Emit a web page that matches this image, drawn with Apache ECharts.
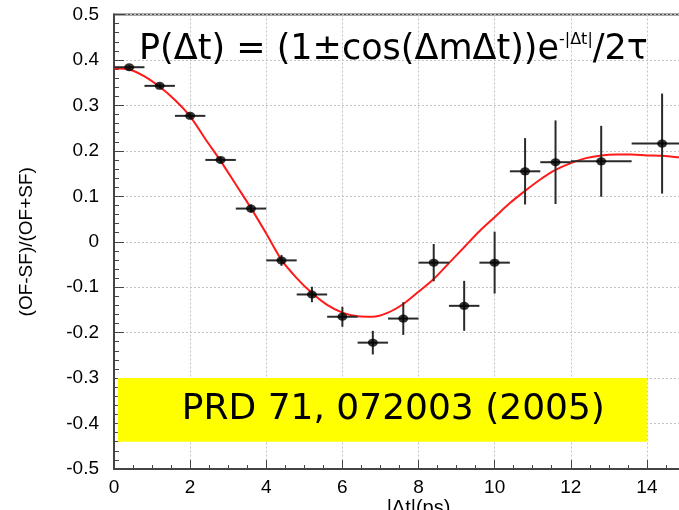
<!DOCTYPE html>
<html><head><meta charset="utf-8">
<script src="https://cdn.jsdelivr.net/npm/echarts@6/dist/echarts.min.js"></script>
<style>html,body{margin:0;padding:0;background:#fff}#c{width:679px;height:510px}</style>
</head><body><div id="c"></div>
<script>
// Measured asymmetry points
const binCenters   = [0.4, 1.2, 2.0, 2.8, 3.6, 4.4, 5.2, 6.0, 6.8, 7.6, 8.4, 9.2, 10.0, 10.8, 11.6, 12.8, 14.4];
const binHalfWidth = [0.4, 0.4, 0.4, 0.4, 0.4, 0.4, 0.4, 0.4, 0.4, 0.4, 0.4, 0.4, 0.4, 0.4, 0.4, 0.8, 0.8];
const asymmetry    = [0.384, 0.343, 0.277, 0.180, 0.073, -0.041, -0.116, -0.165, -0.222, -0.169, -0.046, -0.141, -0.046, 0.155, 0.175, 0.177, 0.216];
const asymError    = [0.004, 0.005, 0.006, 0.007, 0.009, 0.012, 0.017, 0.022, 0.026, 0.036, 0.041, 0.055, 0.068, 0.073, 0.092, 0.078, 0.110];
// Fit curve
const fitX = [0, 0.4, 0.8, 1.2, 1.6, 2.0, 2.4, 2.8, 3.2, 3.6, 4.0, 4.4, 4.8, 5.2, 5.6, 6.0, 6.4, 6.8, 7.2, 7.6, 8.0, 8.4, 8.8, 9.2, 9.6, 10.0, 10.4, 10.8, 11.2, 11.6, 12.0, 12.4, 12.8, 13.2, 13.6, 14.0, 14.4, 14.8, 15.2];
const fitY = [0.382, 0.379, 0.364, 0.341, 0.312, 0.276, 0.226, 0.178, 0.126, 0.074, 0.018, -0.040, -0.080, -0.113, -0.139, -0.156, -0.164, -0.165, -0.156, -0.137, -0.110, -0.082, -0.047, -0.012, 0.023, 0.054, 0.085, 0.112, 0.137, 0.158, 0.173, 0.184, 0.190, 0.192, 0.192, 0.190, 0.189, 0.186, 0.184];
// Axis ranges / ticks
const xRange = [0, 16];
const xStep = 2;
const yRange = [-0.5, 0.5];
const yStep = 0.1;
const titleText = '{a|P(Δt) = (1±cos(ΔmΔt))e}{s|-|Δt|}{a|/2τ}';
const refText = 'PRD 71, 072003 (2005)';
const refBox = [[0.1, -0.30], [14.0, -0.44]];
const xName = '|Δt|(ps)';
const yName = '(OF-SF)/(OF+SF)';

const chart = echarts.init(document.getElementById('c'), null, {renderer: 'canvas'});
const axisCol = '#444';
const option = {
  animation: false,
  backgroundColor: '#fff',
  grid: {left: 114, top: 14.5, right: -44, bottom: 41, show: true, borderColor: '#555', borderWidth: 2, containLabel: false, outerBoundsMode: 'none'},
  xAxis: {
    type: 'value', min: xRange[0], max: xRange[1], interval: xStep,
    name: xName, nameLocation: 'middle', nameGap: 29, nameMoveOverlap: false,
    nameTextStyle: {fontFamily: 'Liberation Sans', fontSize: 20, color: '#000'},
    axisLine: {show: true, onZero: false, lineStyle: {color: axisCol, width: 2}},
    axisTick: {show: true, inside: true, length: 9, lineStyle: {color: axisCol, width: 1}},
    minorTick: {show: true, splitNumber: 4, length: 4, lineStyle: {color: axisCol, width: 1}},
    axisLabel: {fontFamily: 'Liberation Sans', fontSize: 19, color: '#000', margin: 9, showMaxLabel: false},
    splitLine: {show: true, lineStyle: {color: '#c4c4c4', type: [2, 2], width: 1}}
  },
  yAxis: {
    type: 'value', min: yRange[0], max: yRange[1], interval: yStep,
    name: yName, nameLocation: 'middle', nameGap: 78, nameRotate: 90, nameMoveOverlap: false,
    nameTextStyle: {fontFamily: 'Liberation Sans', fontSize: 19, color: '#000'},
    axisLine: {show: true, onZero: false, lineStyle: {color: axisCol, width: 2}},
    axisTick: {show: true, inside: true, length: 10, lineStyle: {color: axisCol, width: 1}},
    minorTick: {show: true, splitNumber: 5, length: 5, lineStyle: {color: axisCol, width: 1}},
    axisLabel: {fontFamily: 'Liberation Sans', fontSize: 19, color: '#000', margin: 15,
      formatter: v => { const r = Math.round(v * 10) / 10; return r === 0 ? '0' : r.toFixed(1); }},
    splitLine: {show: true, lineStyle: {color: '#c4c4c4', type: [2, 2], width: 1}}
  },
  series: [
    {
      type: 'line', z: 2, silent: true,
      data: fitX.map((x, i) => [x, fitY[i]]),
      showSymbol: false, smooth: 0.3,
      lineStyle: {color: '#ff1a1a', width: 2},
      markArea: {
        silent: true,
        itemStyle: {color: '#ffff00', opacity: 1},
        label: {show: true, position: 'inside', offset: [11, 0], color: '#000', fontFamily: 'DejaVu Sans', fontSize: 36},
        data: [[{coord: refBox[0], name: refText}, {coord: refBox[1]}]]
      }
    },
    {
      type: 'custom', z: 3, silent: true,
      data: binCenters.map((x, i) => [x, asymmetry[i], binHalfWidth[i], asymError[i]]),
      encode: {x: 0, y: 1},
      renderItem: (params, api) => {
        const x = api.value(0), y = api.value(1), hw = api.value(2), e = api.value(3);
        const l = api.coord([x - hw, y]), r = api.coord([x + hw, y]);
        const t = api.coord([x, y + e]), b = api.coord([x, y - e]);
        const st = {stroke: '#2a2a2a', lineWidth: 2};
        return {type: 'group', children: [
          {type: 'line', shape: {x1: l[0], y1: l[1], x2: r[0], y2: r[1]}, style: st},
          {type: 'line', shape: {x1: t[0], y1: t[1], x2: b[0], y2: b[1]}, style: st}
        ]};
      }
    },
    {
      type: 'scatter', z: 4, silent: true,
      data: binCenters.map((x, i) => [x, asymmetry[i]]),
      symbol: 'circle', symbolSize: [10, 8],
      itemStyle: {color: '#000'}
    }
  ],
  graphic: [{
    type: 'text', left: 139, top: 30, z: 10,
    style: {
      text: titleText,
      rich: {
        a: {fontFamily: 'DejaVu Sans', fontSize: 35, lineHeight: 40, fill: '#000'},
        s: {fontFamily: 'DejaVu Sans', fontSize: 16, lineHeight: 16, verticalAlign: 'top', padding: [2, 0, 0, 0], fill: '#000'}
      }
    }
  }]
};
chart.setOption(option);
</script>
</body></html>
